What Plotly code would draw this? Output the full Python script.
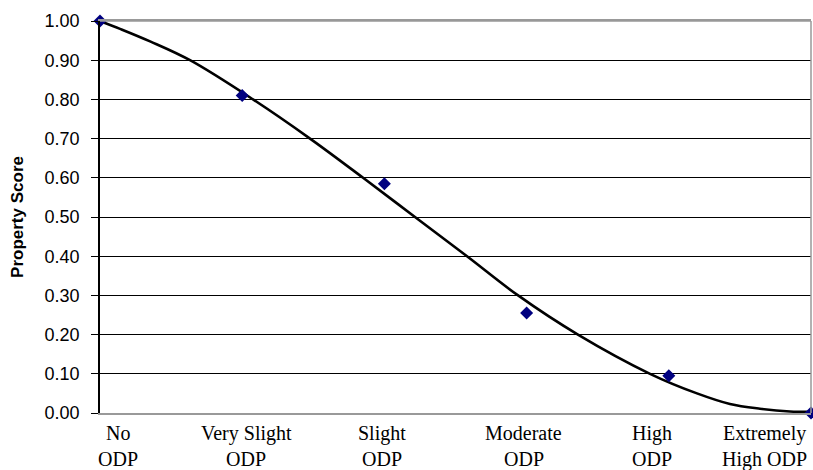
import plotly.graph_objects as go

# Data
line1 = ["No", "Very Slight", "Slight", "Moderate", "High", "Extremely"]
line2 = ["ODP", "ODP", "ODP", "ODP", "ODP", "High ODP"]
cat_x = [0, 1, 2, 3, 4, 5]
scores = [1.00, 0.81, 0.585, 0.255, 0.095, 0.00]

# Trend line
trend_x = [0, 0.141, 0.352, 0.633, 1.076, 1.477, 1.850, 2.215, 2.581, 2.940, 3.361, 3.868,
           4.198, 4.430, 4.641, 4.852, 5.0]
trend_y = [1.000, 0.980, 0.948, 0.900, 0.800, 0.700, 0.600, 0.500, 0.400, 0.300, 0.200, 0.100,
           0.050, 0.023, 0.011, 0.004, 0.003]

y_ticks = [0.0, 0.1, 0.2, 0.3, 0.4, 0.5, 0.6, 0.7, 0.8, 0.9, 1.0]

# label centre positions (layout)
label_pos = [0.13, 1.03, 1.98, 2.98, 3.88, 4.675]

fig = go.Figure()
fig.add_trace(go.Scatter(x=trend_x, y=trend_y, mode="lines",
                         line=dict(color="black", width=2.6, shape="spline", smoothing=1.0),
                         hoverinfo="skip", showlegend=False))
fig.add_trace(go.Scatter(x=cat_x, y=scores, mode="markers",
                         marker=dict(symbol="diamond", size=10, color="#000080"),
                         cliponaxis=False, showlegend=False))

lab_font = dict(family="Liberation Serif", size=20, color="black")
for lx, t1, t2 in zip(label_pos, line1, line2):
    fig.add_annotation(x=lx, xref="x", y=0, yref="paper", yanchor="middle", yshift=-20,
                       text=t1, showarrow=False, font=lab_font)
    fig.add_annotation(x=lx, xref="x", y=0, yref="paper", yanchor="middle", yshift=-46,
                       text=t2, showarrow=False, font=lab_font)

fig.update_layout(
    width=813, height=470,
    margin=dict(l=100, r=2, t=21, b=57),
    paper_bgcolor="white", plot_bgcolor="white",
    font=dict(family="Liberation Sans", color="black"),
    xaxis=dict(range=[0, 5], showgrid=False, zeroline=False, showticklabels=False,
               ticks="", showline=True, linecolor="#999999", linewidth=1.5, mirror=True),
    yaxis=dict(range=[0, 1], tickvals=y_ticks, tickformat=".2f",
               showgrid=True, gridcolor="black", gridwidth=1.2,
               zeroline=False, showline=True, linecolor="black", linewidth=1.5,
               ticks="outside", ticklen=7, tickcolor="black", tickwidth=1.2,
               ticklabelstandoff=8,
               tickfont=dict(family="Liberation Sans", size=18, color="black"),
               title=dict(text="<b>Property Score</b>", standoff=17,
                          font=dict(family="Liberation Sans", size=17, color="black"))),
)

# right / top border in grey
fig.add_shape(type="line", xref="paper", yref="paper", x0=1, x1=1, y0=0, y1=1,
              line=dict(color="#999999", width=1.5))
fig.add_shape(type="line", xref="paper", yref="paper", x0=0, x1=1, y0=1, y1=1,
              line=dict(color="#999999", width=1.5))

fig.write_html("out.html")
